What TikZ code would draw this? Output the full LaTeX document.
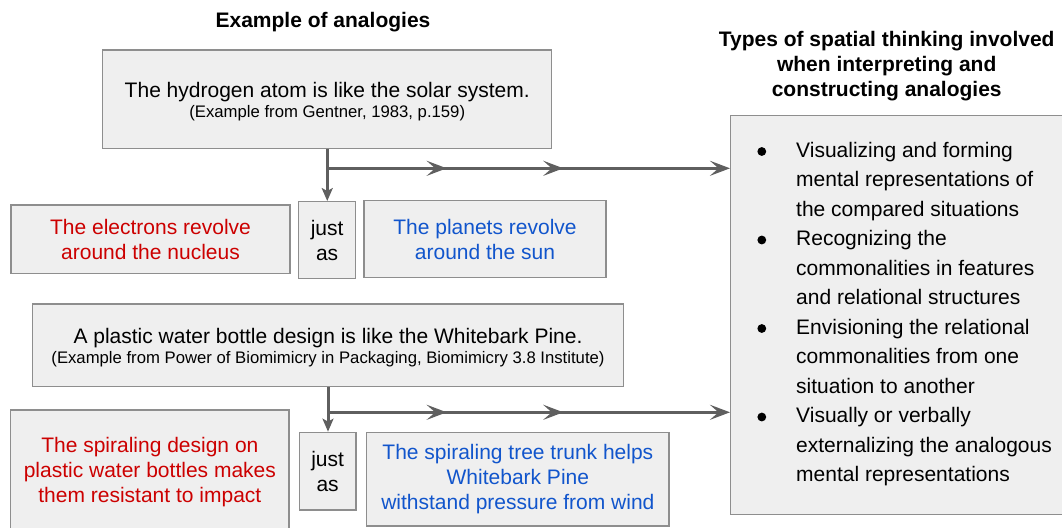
\documentclass[tikz,border=0pt]{standalone}
\usepackage{fontspec}
\setmainfont{Liberation Sans}
\usetikzlibrary{arrows.meta}
\definecolor{boxfill}{HTML}{EFEFEF}
\definecolor{boxline}{HTML}{8E8E8E}
\definecolor{conngray}{HTML}{5F5F5F}
\definecolor{redtxt}{HTML}{CC0000}
\definecolor{bluetxt}{HTML}{1155CC}
\tikzset{
  box/.style={draw=boxline, fill=boxfill, line width=1.3pt, inner sep=0pt, align=center,
              font=\fontsize{21}{25}\selectfont},
  ttl/.style={font=\bfseries\fontsize{21}{25.3}\selectfont, align=center, inner sep=0pt},
  conn/.style={color=conngray, line width=3pt},
  bigtip/.style={-{Stealth[length=20pt,width=15pt,inset=8.5pt]}},
  smalltip/.style={-{Stealth[length=13pt,width=11pt,inset=3pt]}},
  bulletdot/.style={fill=black}
}
\newcommand{\subline}[1]{{\fontsize{16.7}{20}\selectfont #1}}
\newcommand{\topstrut}{\rule{0pt}{20pt}}
\begin{document}
\begin{tikzpicture}[x=1pt,y=-1pt]
\clip (0,0) rectangle (1062,527);
\fill[white] (0,0) rectangle (1062,527);

% titles
\node[ttl] (t1) at (323,21.7) {Example of analogies};
\node[ttl] (t2) at (886.7,66.3) {Types of spatial thinking involved\\when interpreting and\\constructing analogies};

% right box
\node[box, anchor=north west, minimum width=345, minimum height=399] (R) at (730,115) {};
\node[anchor=base west, inner sep=0pt, font=\fontsize{21}{29.5}\selectfont] (list) at (796,157)
{\begin{tabular}[t]{@{}l@{}}
Visualizing and forming\\
mental representations of\\
the compared situations\\
Recognizing the\\
commonalities in features\\
and relational structures\\
Envisioning the relational\\
commonalities from one\\
situation to another\\
Visually or verbally\\
externalizing the analogous\\
mental representations
\end{tabular}};
\foreach \k in {0,1,2,3}
  \fill[bulletdot] ([shift={(-34.2,-5.5+88.5*\k)}]list.base west) circle[radius=4.4];

% example 1
\node[box, minimum width=448.9, minimum height=98.3] (b1) at (327.25,99.15)
  {\topstrut The hydrogen atom is like the solar system.\\[-4.4pt]\subline{(Example from Gentner, 1983, p.159)}};
\node[box, text=redtxt, minimum width=279, minimum height=68.3] (r1) at (150.5,239.2)
  {The electrons revolve\\around the nucleus};
\node[box, minimum width=57.2, minimum height=76.6] (j1box) at (327.1,240)
  {just\\as};
\node[box, text=bluetxt, minimum width=242, minimum height=76.6] (u1) at (485,239)
  {The planets revolve\\around the sun};

% example 2
\node[box, minimum width=590.6, minimum height=82.7] (b2) at (328,345.35)
  {\topstrut A plastic water bottle design is like the Whitebark Pine.\\[-4.4pt]\subline{(Example from Power of Biomimicry in Packaging, Biomimicry 3.8 Institute)}};
\node[box, text=redtxt, minimum width=278.3, minimum height=123.4] (r2) at (149.85,471.7)
  {The spiraling design on\\plastic water bottles makes\\them resistant to impact};
\node[box, minimum width=56.7, minimum height=77.7] (j2box) at (327.65,471.15)
  {just\\as};
\node[box, text=bluetxt, minimum width=302.3, minimum height=93.3] (u2) at (517.85,479.35)
  {The spiraling tree trunk helps\\Whitebark Pine\\withstand pressure from wind};

% connectors
\coordinate (j1) at (327.25,168.3);
\coordinate (s1a) at (420,168.3);  \coordinate (m1a) at (446.7,168.3);
\coordinate (s1b) at (536,168.3);  \coordinate (m1b) at (563.3,168.3);
\coordinate (j2) at (328,412.3);
\coordinate (s2a) at (420,412.3);  \coordinate (m2a) at (446.7,412.3);
\coordinate (s2b) at (536,412.3);  \coordinate (m2b) at (563.3,412.3);
\draw[conn, smalltip] (b1.south) -- (b1.south |- j1box.north);
\draw[conn, bigtip] (j1) -- (j1 -| R.west);
\draw[conn, bigtip] (s1a) -- (m1a);
\draw[conn, bigtip] (s1b) -- (m1b);
\draw[conn, smalltip] (b2.south) -- (b2.south |- j2box.north);
\draw[conn, bigtip] (j2) -- (j2 -| R.west);
\draw[conn, bigtip] (s2a) -- (m2a);
\draw[conn, bigtip] (s2b) -- (m2b);
\end{tikzpicture}
\end{document}
